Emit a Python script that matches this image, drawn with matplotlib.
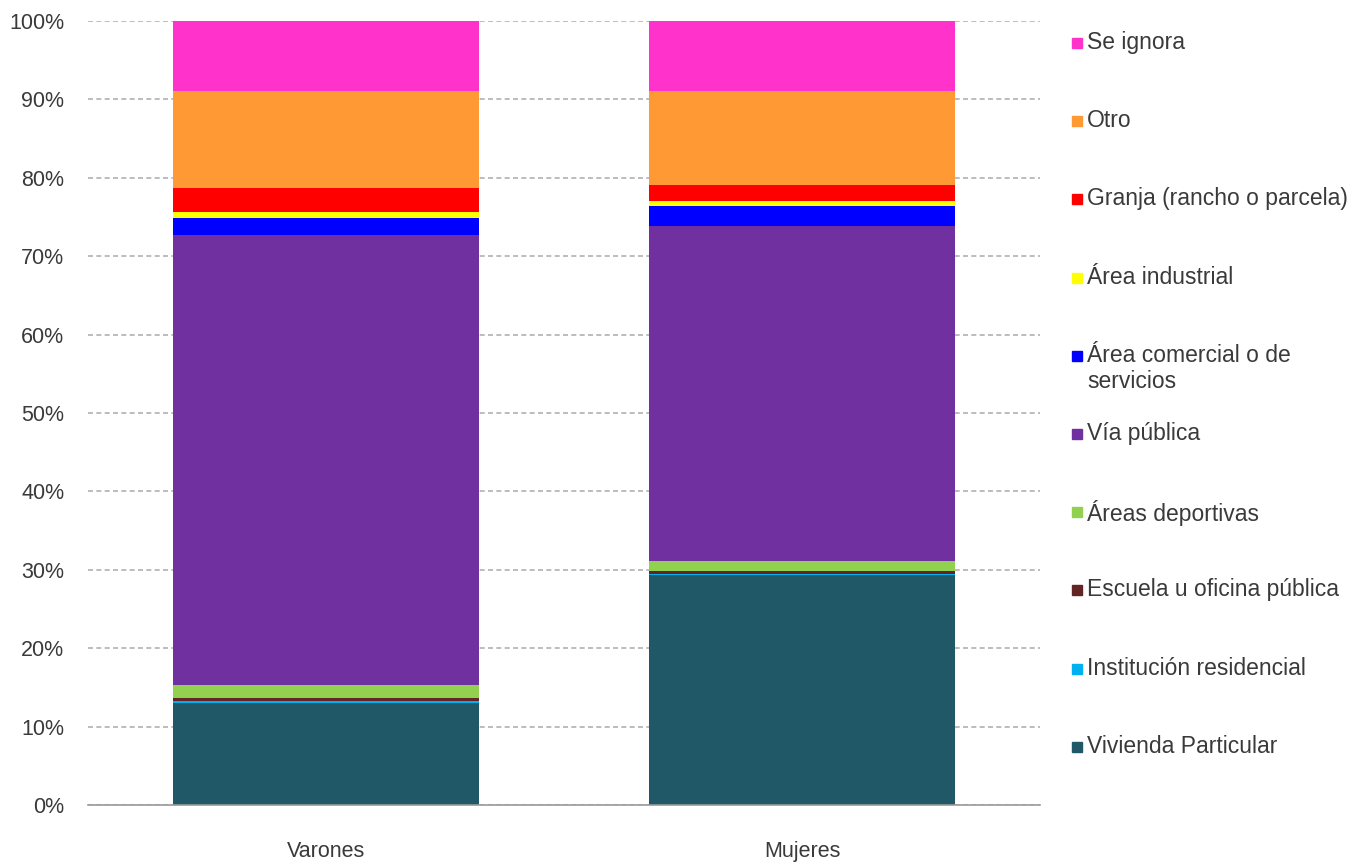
import matplotlib.pyplot as plt
from matplotlib.patches import Rectangle
import numpy as np

groups = ['Varones', 'Mujeres']
labels = ['Vivienda Particular', 'Institución residencial', 'Escuela u oficina pública',
          'Áreas deportivas', 'Vía pública', 'Área comercial o de\nservicios',
          'Área industrial', 'Granja (rancho o parcela)', 'Otro', 'Se ignora']
colors = ['#215868', '#00B0F0', '#632523', '#92D050', '#7030A0', '#0000FF',
          '#FFFF00', '#FF0000', '#FF9933', '#FF33CC']
# percentages, bottom to top
varones = [13.0, 0.3, 0.3, 1.7, 57.4, 2.2, 0.7, 3.1, 12.4, 8.9]
mujeres = [29.3, 0.2, 0.3, 1.3, 42.8, 2.5, 0.6, 2.1, 12.0, 8.9]

plt.rcParams['font.family'] = ['Liberation Sans Narrow', 'Liberation Sans', 'DejaVu Sans']

fig = plt.figure(figsize=(13.48, 8.65), dpi=100)
ax = fig.add_axes([0.0653, 0.0694, 0.7062, 0.9063])

vals = np.array([varones, mujeres]) / 100.0
x = np.arange(len(groups))
bottom = np.zeros(len(groups))
for i in range(len(labels)):
    ax.bar(x, vals[:, i], width=0.644, bottom=bottom, color=colors[i], zorder=2)
    bottom += vals[:, i]

ax.set_xlim(-0.5, 1.5)
ax.set_ylim(0, 1.0)
ax.set_yticks(np.arange(0, 1.01, 0.1))
ax.set_yticklabels([f'{int(round(v*100))}%' for v in np.arange(0, 1.01, 0.1)])
ax.set_xticks(x)
ax.set_xticklabels(groups)
ax.yaxis.grid(True, linestyle=(0, (3, 2)), color='#b0b0b0', linewidth=1.2, zorder=0)
ax.tick_params(axis='y', length=0, pad=17, labelsize=15.5, labelcolor='#3a3a3a')
ax.tick_params(axis='x', length=0, pad=26, labelsize=15.5, labelcolor='#3a3a3a')
for s in ['top', 'right', 'left']:
    ax.spines[s].set_visible(False)
ax.spines['bottom'].set_color('#999999')
ax.spines['bottom'].set_linewidth(1.2)

# legend, top to bottom
H = 865.0
W = 1348.0
for k, i in enumerate(range(len(labels) - 1, -1, -1)):
    yc = 43 + k * 78.2
    fig.patches.append(Rectangle((1072 / W, 1 - (yc + 5) / H), 10 / W, 10 / H,
                                 transform=fig.transFigure, color=colors[i]))
    fig.text(1087 / W, 1 - (yc - 12) / H, labels[i], fontsize=16.5, color='#3a3a3a',
             va='top', ha='left', linespacing=1.2)

fig.savefig('out.png', dpi=100)
